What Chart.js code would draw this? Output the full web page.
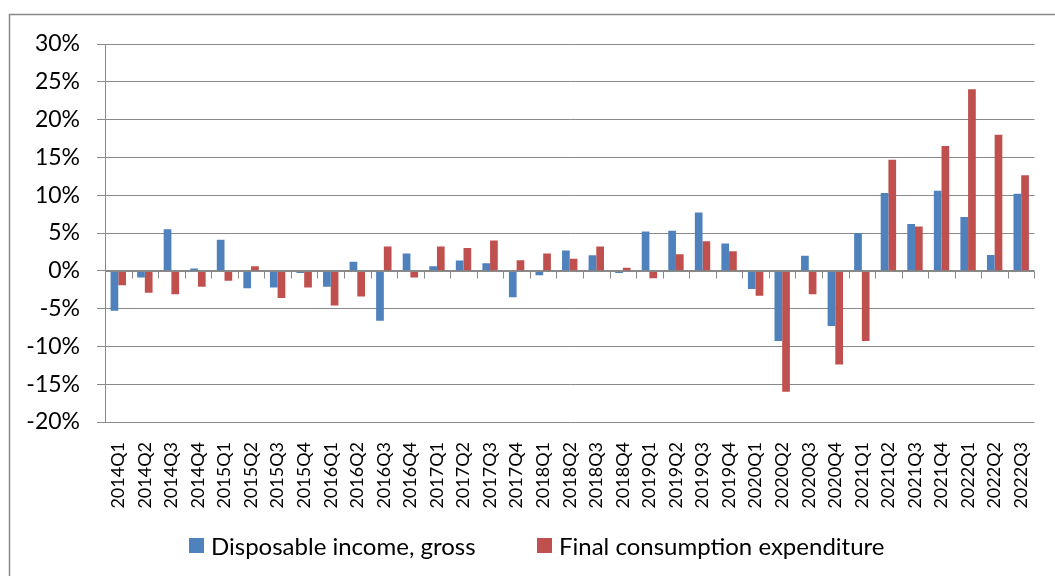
<!DOCTYPE html>
<html>
<head>
<meta charset="utf-8">
<script src="https://cdn.jsdelivr.net/npm/chart.js@4.4.0/dist/chart.umd.min.js"></script>
<style>
  html, body { margin: 0; padding: 0; background: #fff; overflow: hidden; }
  #wrap { position: relative; width: 1055px; height: 576px; }
  #legend { position: absolute; left: 0; top: 529px; width: 1055px; height: 32px; font-family: Lato, sans-serif; font-size: 24px; color: #000; }
  #legend .item { position: absolute; top: 0; height: 32px; display: flex; align-items: center; white-space: nowrap; }
  #legend .box { width: 15px; height: 15px; margin-right: 7px; }
</style>
</head>
<body>
<div id="wrap">
  <canvas id="chart" width="1055" height="576"></canvas>
  <div id="legend"></div>
</div>
<script>
// quarters on the x axis
const quarters = [
  '2014Q1', '2014Q2', '2014Q3', '2014Q4',
  '2015Q1', '2015Q2', '2015Q3', '2015Q4',
  '2016Q1', '2016Q2', '2016Q3', '2016Q4',
  '2017Q1', '2017Q2', '2017Q3', '2017Q4',
  '2018Q1', '2018Q2', '2018Q3', '2018Q4',
  '2019Q1', '2019Q2', '2019Q3', '2019Q4',
  '2020Q1', '2020Q2', '2020Q3', '2020Q4',
  '2021Q1', '2021Q2', '2021Q3', '2021Q4',
  '2022Q1', '2022Q2', '2022Q3'
];

// % change
const disposableIncome = [
  -5.3, -0.9, 5.5, 0.3,
  4.1, -2.3, -2.2, -0.3,
  -2.1, 1.2, -6.6, 2.3,
  0.6, 1.35, 1.0, -3.5,
  -0.6, 2.7, 2.05, -0.3,
  5.2, 5.3, 7.7, 3.6,
  -2.4, -9.3, 2.0, -7.3,
  5.0, 10.3, 6.2, 10.6,
  7.1, 2.1, 10.2
];
const consumption = [
  -1.9, -2.9, -3.1, -2.1,
  -1.3, 0.6, -3.6, -2.2,
  -4.6, -3.4, 3.2, -0.9,
  3.2, 3.0, 4.0, 1.4,
  2.3, 1.6, 3.2, 0.4,
  -1.0, 2.2, 3.9, 2.6,
  -3.3, -16.0, -3.1, -12.4,
  -9.3, 14.7, 5.85, 16.5,
  24.0, 18.0, 12.65
];

const seriesNames = ['Disposable income, gross', 'Final consumption expenditure'];
const seriesColors = ['#4F81BD', '#C0504D'];

// y axis range / step (percent)
const yMin = -20;
const yMax = 30;
const yStep = 5;

const gridGray = '#898989';
// left edge of each legend entry (the legend sits off-centre in the original)
const legendLefts = [189, 537];

// outer frame of the chart object
const framePlugin = {
  id: 'frame',
  beforeDraw(chart) {
    const ctx = chart.ctx;
    ctx.save();
    ctx.strokeStyle = gridGray;
    ctx.lineWidth = 1.5;
    ctx.beginPath();
    ctx.moveTo(9.5, 576);
    ctx.lineTo(9.5, 14.5);
    ctx.lineTo(1055, 14.5);
    ctx.stroke();
    ctx.restore();
  }
};

// zero line with category tick marks (excel style axis crossing at 0)
const zeroAxisPlugin = {
  id: 'zeroAxis',
  afterDatasetsDraw(chart) {
    const x = chart.scales.x;
    const y = chart.scales.y;
    const y0 = Math.round(y.getPixelForValue(0)) + 0.5;
    const n = quarters.length;
    const step = x.width / n;
    const ctx = chart.ctx;
    ctx.save();
    ctx.strokeStyle = gridGray;
    ctx.lineWidth = 1;
    ctx.beginPath();
    ctx.moveTo(x.left, y0);
    ctx.lineTo(x.right, y0);
    for (let i = 1; i <= n; i++) {
      const px = Math.round(x.left + i * step) + 0.5;
      ctx.moveTo(px, y0);
      ctx.lineTo(px, y0 + 7);
    }
    ctx.stroke();
    ctx.restore();
  }
};

const ctx = document.getElementById('chart').getContext('2d');
const chart = new Chart(ctx, {
  type: 'bar',
  data: {
    labels: quarters,
    datasets: [
      { label: seriesNames[0], data: disposableIncome, backgroundColor: seriesColors[0] },
      { label: seriesNames[1], data: consumption, backgroundColor: seriesColors[1] }
    ]
  },
  options: {
    responsive: false,
    animation: false,
    devicePixelRatio: 1,
    layout: { padding: { left: 0, right: 14, top: 44, bottom: 0 } },
    datasets: { bar: { categoryPercentage: 0.58, barPercentage: 1.0 } },
    plugins: {
      legend: { display: false },
      tooltip: { enabled: false }
    },
    scales: {
      x: {
        grid: { display: false },
        border: { display: false },
        ticks: {
          minRotation: 90,
          maxRotation: 90,
          autoSkip: false,
          padding: 12,
          color: '#000',
          font: { family: 'Lato', size: 18 }
        },
        afterFit(scale) { scale.height = 154; }
      },
      y: {
        min: yMin,
        max: yMax,
        grid: { color: gridGray, tickColor: gridGray, tickLength: 8, lineWidth: 1 },
        border: { display: true, color: gridGray, width: 1 },
        ticks: {
          stepSize: yStep,
          padding: 17,
          color: '#000',
          font: { family: 'Lato', size: 23 },
          callback: v => v + '%'
        },
        afterFit(scale) { scale.width = 105; }
      }
    }
  },
  plugins: [framePlugin, zeroAxisPlugin]
});

// html legend from the dataset names / colours
const legendEl = document.getElementById('legend');
chart.data.datasets.forEach((ds, i) => {
  const item = document.createElement('div');
  item.className = 'item';
  item.style.left = legendLefts[i] + 'px';
  const box = document.createElement('span');
  box.className = 'box';
  box.style.background = ds.backgroundColor;
  const txt = document.createElement('span');
  txt.textContent = ds.label;
  item.appendChild(box);
  item.appendChild(txt);
  legendEl.appendChild(item);
});
</script>
</body>
</html>
